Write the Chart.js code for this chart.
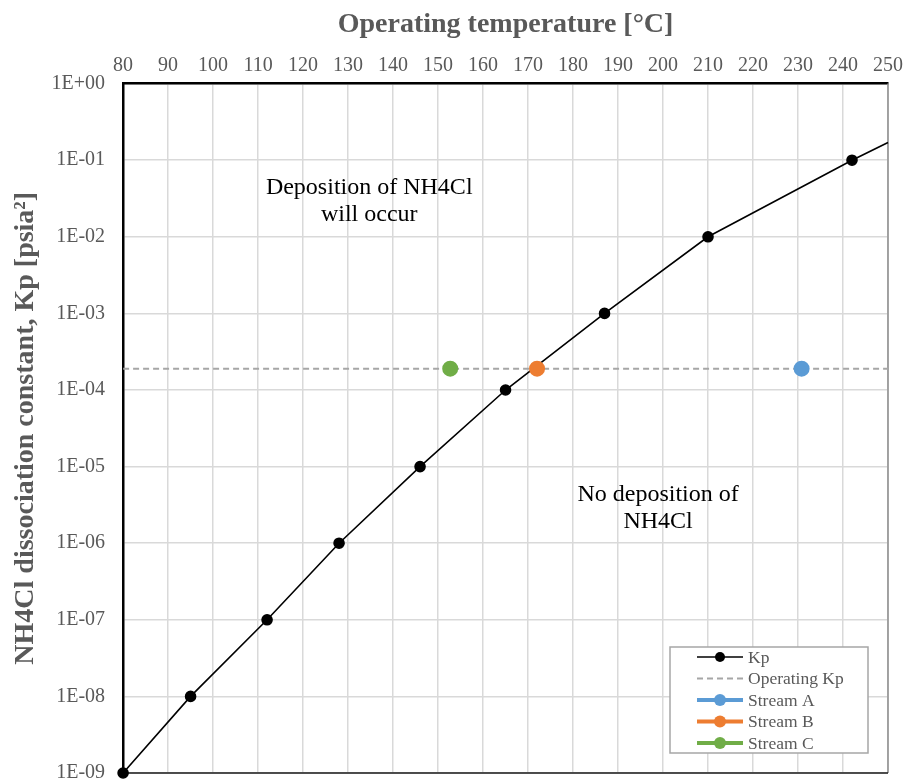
<!DOCTYPE html>
<html>
<head>
<meta charset="utf-8">
<script src="https://cdn.jsdelivr.net/npm/chart.js@4/dist/chart.umd.min.js"></script>
<style>
  html, body { margin: 0; padding: 0; background: #ffffff; }
  #wrap { width: 909px; height: 783px; position: relative; }
</style>
</head>
<body>
<div id="wrap"><canvas id="chart" width="909" height="783"></canvas></div>
<script>
// Kp curve: temperature [°C] vs dissociation constant [psia²]
const kpTemps  = [80, 95, 112, 128, 146, 165, 187, 210, 242, 250];
const kpValues = [1e-9, 1e-8, 1e-7, 1e-6, 1e-5, 1e-4, 1e-3, 1e-2, 1e-1, 0.17];

// Operating Kp level across the temperature range
const operatingTemps = [80, 250];
const operatingKp = 1.9e-4;

// Stream operating temperatures (all at the operating Kp)
const streamNames = ['Stream A', 'Stream B', 'Stream C'];
const streamTemps = [230.8, 172, 152.7];

// Axis ticks
const xTickLabels = [80, 90, 100, 110, 120, 130, 140, 150, 160, 170, 180, 190, 200, 210, 220, 230, 240, 250];
const yTickLabels = [1e-9, 1e-8, 1e-7, 1e-6, 1e-5, 1e-4, 1e-3, 1e-2, 1e-1, 1e0];

const SERIF = "'Liberation Serif', 'Times New Roman', serif";
const GREY_TEXT = '#595959';
const streamColors = ['#5b9bd5', '#ed7d31', '#70ad47'];

function expLabel(v) {
  const e = Math.round(Math.log10(v));
  const a = Math.abs(e);
  return '1E' + (e < 0 ? '-' : '+') + (a < 10 ? '0' : '') + a;
}

const datasets = [
  {
    label: 'Kp',
    data: kpTemps.map((t, i) => ({ x: t, y: kpValues[i] })),
    borderColor: '#000000',
    backgroundColor: '#000000',
    borderWidth: 1.6,
    pointRadius: kpTemps.map((t, i) => i === kpTemps.length - 1 ? 0 : 5),
    pointHoverRadius: 0,
    tension: 0,
    clip: false,
    order: 2
  },
  {
    label: 'Operating Kp',
    data: operatingTemps.map(t => ({ x: t, y: operatingKp })),
    borderColor: '#a6a6a6',
    backgroundColor: '#a6a6a6',
    borderWidth: 2,
    borderDash: [6, 4],
    pointRadius: 0,
    tension: 0,
    order: 3
  }
].concat(streamNames.map((name, i) => ({
  label: name,
  data: [{ x: streamTemps[i], y: operatingKp }],
  borderColor: streamColors[i],
  backgroundColor: streamColors[i],
  borderWidth: 4,
  pointRadius: 6,
  showLine: false,
  clip: false,
  order: 1
})));

// Outer frame of the plot area (right and bottom edges)
const plotFrame = {
  id: 'plotFrame',
  beforeDatasetsDraw(chart) {
    const { ctx, chartArea: a } = chart;
    ctx.save();
    ctx.lineWidth = 1.5;
    ctx.strokeStyle = '#8c8c8c';
    ctx.beginPath();
    ctx.moveTo(a.right, a.top);
    ctx.lineTo(a.right, a.bottom);
    ctx.stroke();
    ctx.strokeStyle = '#1a1a1a';
    ctx.beginPath();
    ctx.moveTo(a.left, a.bottom);
    ctx.lineTo(a.right, a.bottom);
    ctx.stroke();
    ctx.restore();
  }
};

// Region notes placed in data coordinates
const regionNotes = [
  { lines: ['Deposition of NH4Cl', 'will occur'], x: 134.7, y: 0.0442 },
  { lines: ['No deposition of', 'NH4Cl'], x: 198.9, y: 4.3e-6 }
];
const notesPlugin = {
  id: 'notes',
  afterDatasetsDraw(chart) {
    const { ctx, scales: { x, y } } = chart;
    ctx.save();
    ctx.font = '24px ' + SERIF;
    ctx.fillStyle = '#000000';
    ctx.textAlign = 'center';
    ctx.textBaseline = 'middle';
    regionNotes.forEach(n => {
      const px = x.getPixelForValue(n.x);
      const py = y.getPixelForValue(n.y);
      n.lines.forEach((l, k) => ctx.fillText(l, px, py + k * 27));
    });
    ctx.restore();
  }
};

// Legend box inside the plot area, lower right
const legendBox = {
  id: 'legendBox',
  afterDraw(chart) {
    const { ctx, chartArea: a } = chart;
    const w = 198, h = 106;
    const left = a.right - 218, top = a.bottom - 126;
    ctx.save();
    ctx.fillStyle = '#ffffff';
    ctx.fillRect(left, top, w, h);
    ctx.strokeStyle = '#a6a6a6';
    ctx.lineWidth = 1.5;
    ctx.strokeRect(left, top, w, h);
    ctx.font = '17.5px ' + SERIF;
    ctx.textBaseline = 'middle';
    ctx.textAlign = 'left';
    chart.data.datasets.forEach((ds, i) => {
      const cy = top + 10 + i * 21.5;
      const x0 = left + 27, x1 = left + 73, xm = (x0 + x1) / 2;
      ctx.strokeStyle = ds.borderColor;
      ctx.lineWidth = ds.borderWidth;
      ctx.setLineDash(ds.borderDash || []);
      ctx.beginPath();
      ctx.moveTo(x0, cy);
      ctx.lineTo(x1, cy);
      ctx.stroke();
      ctx.setLineDash([]);
      if (ds.label !== 'Operating Kp') {
        ctx.fillStyle = ds.backgroundColor;
        ctx.beginPath();
        ctx.arc(xm, cy, ds.label === 'Kp' ? 5 : 6, 0, Math.PI * 2);
        ctx.fill();
      }
      ctx.fillStyle = GREY_TEXT;
      ctx.fillText(ds.label, left + 78, cy + 1);
    });
    ctx.restore();
  }
};

new Chart(document.getElementById('chart'), {
  type: 'line',
  data: { datasets },
  plugins: [plotFrame, notesPlugin, legendBox],
  options: {
    responsive: false,
    animation: false,
    devicePixelRatio: 1,
    layout: { padding: { left: 9, right: 21, top: 8, bottom: 0 } },
    plugins: {
      legend: { display: false },
      tooltip: { enabled: false },
      title: { display: false }
    },
    scales: {
      x: {
        type: 'linear',
        position: 'top',
        min: 80,
        max: 250,
        afterBuildTicks: s => { s.ticks = xTickLabels.map(v => ({ value: v })); },
        ticks: {
          font: { family: SERIF, size: 20 },
          color: GREY_TEXT,
          padding: 6,
          maxRotation: 0,
          autoSkip: false
        },
        grid: { color: '#d9d9d9', lineWidth: 1.5, drawTicks: false },
        border: { display: true, color: '#000000', width: 2.5 },
        title: {
          display: true,
          text: 'Operating temperature [°C]',
          font: { family: SERIF, size: 28, weight: 'bold' },
          color: GREY_TEXT,
          padding: { top: 0, bottom: 6 }
        }
      },
      y: {
        type: 'logarithmic',
        min: 1e-9,
        max: 1,
        afterBuildTicks: s => { s.ticks = yTickLabels.map(v => ({ value: v })); },
        ticks: {
          font: { family: SERIF, size: 20 },
          color: GREY_TEXT,
          padding: -5,
          autoSkip: false,
          callback: v => expLabel(v)
        },
        grid: {
          color: '#d9d9d9',
          lineWidth: 1.5,
          drawTicks: true,
          tickLength: 23,
          tickColor: 'rgba(0,0,0,0)'
        },
        border: { display: true, color: '#000000', width: 2.5 },
        title: {
          display: true,
          text: 'NH4Cl dissociation constant, Kp [psia²]',
          font: { family: SERIF, size: 28, weight: 'bold' },
          color: GREY_TEXT,
          padding: { top: 0, bottom: 14 }
        }
      }
    }
  }
});
</script>
</body>
</html>
